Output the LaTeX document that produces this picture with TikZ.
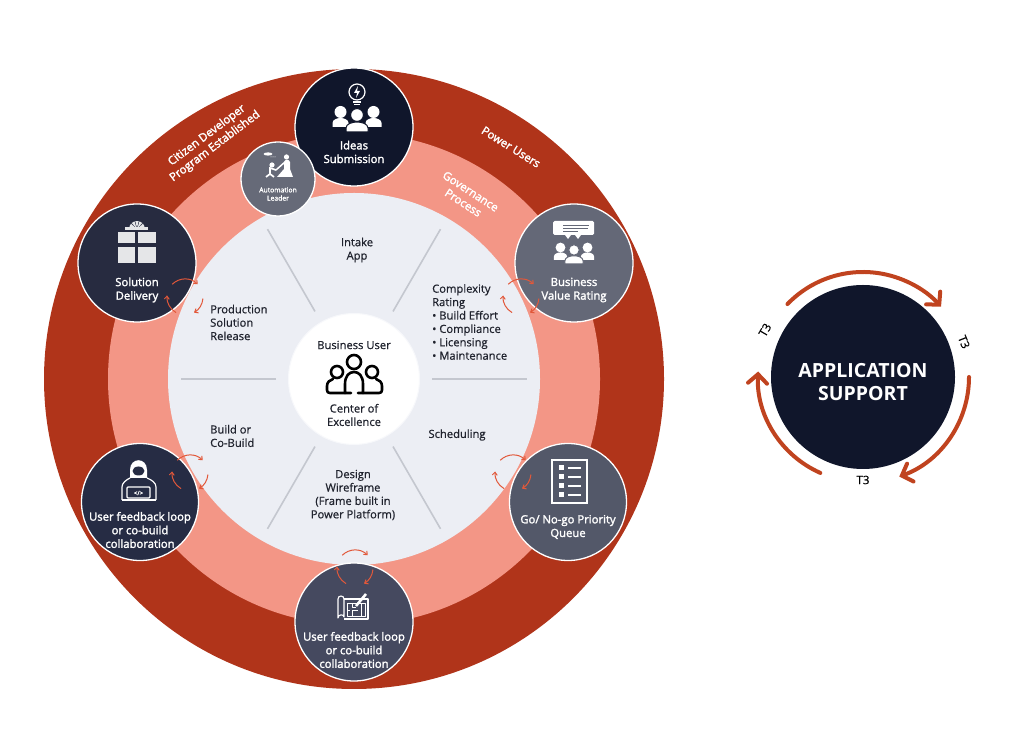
\documentclass[tikz,border=0pt]{standalone}
\usepackage{fontspec}
\setmainfont{Open Sans}
\newfontfamily\hubfont[FakeBold=2]{Open Sans}
\newfontfamily\midfont[FakeBold=0.7]{Open Sans}
\usetikzlibrary{arrows.meta}
\definecolor{ringred}{HTML}{B0341A}
\definecolor{ringpink}{HTML}{F39686}
\definecolor{ringpale}{HTML}{ECEEF4}
\definecolor{hubnavy}{HTML}{10162B}
\definecolor{hubgrey}{HTML}{666A78}
\definecolor{hubdusk}{HTML}{272B40}
\definecolor{hubslate}{HTML}{646877}
\definecolor{hubink}{HTML}{262C44}
\definecolor{hubsteel}{HTML}{535869}
\definecolor{hubstorm}{HTML}{45495F}
\definecolor{loopred}{HTML}{E2583A}
\definecolor{tieredred}{HTML}{C0431F}
\definecolor{spokegrey}{HTML}{C4C7CF}
\definecolor{texink}{HTML}{20232E}
\tikzset{
  hub/.style={circle,draw=white,line width=1.3pt,inner sep=0pt,minimum size=#1},
  hubtext/.style={text=white,align=center,font=\fontsize{11.3}{13.6}\hubfont},
  midtext/.style={text=texink,align=center,font=\fontsize{11.2}{13.4}\midfont},
  sidetext/.style={midtext,align=left,anchor=west,inner sep=0pt},
  ringtext/.style={text=white,align=center,font=\fontsize{11.4}{13.6}\hubfont},
  tiertext/.style={text=black,font=\fontsize{11.5}{13}\midfont},
  looparc/.style={draw=loopred,line width=1pt,-{Straight Barb[length=3pt,width=5pt]}},
  tierarc/.style={draw=tieredred,line width=4pt,line cap=round,-{Straight Barb[length=9pt,width=19pt,line cap=round]}}
}
% three white figures, #4 is the colour behind them
\newcommand{\crowd}[4]{%
\begin{scope}[shift={(#1,#2)},scale=#3]
\foreach \x in {-16.5,16.5}{
\fill[white,shift={(\x,0)}] (0,3) circle [radius=6];
\fill[white,shift={(\x,0)}] (-8,-12) -- (-8,-8) .. controls (-8,-5) and (-4,-3) .. (0,-3) .. controls (4,-3) and (8,-5) .. (8,-8) -- (8,-12) -- cycle;
}
\filldraw[white,draw=#4,line width=1pt] (0,0) circle [radius=6.4];
\filldraw[white,draw=#4,line width=1pt] (-11,-17) -- (-11,-13) .. controls (-11,-9) and (-5,-7) .. (0,-7) .. controls (5,-7) and (11,-9) .. (11,-13) -- (11,-17) -- cycle;
\end{scope}}
\begin{document}
\begin{tikzpicture}[x=1pt,y=1pt]
\useasboundingbox (0,0) rectangle (1016,754);
%rings
\fill[ringred] (354,375) circle [radius=310];
\fill[ringpink] (354,375) circle [radius=246];
\fill[ringpale] (354,375) circle [radius=186];
\node[circle,fill=white,draw=white!60!ringpale,line width=1pt,minimum size=131pt,inner sep=0pt] (core) at (354,375) {};
%spokes
\foreach \a in {60,120,180,240,300,360}
{\draw[spokegrey,line width=1.6pt] ([shift={(\a:78)}]354,375) -- ([shift={(\a:173)}]354,375);}
%hubs
\node[hub=118pt,fill=hubnavy] (ideas) at (354,627) {};
\node[hub=74pt,fill=hubgrey] (leader) at (278,575) {};
\node[hub=118pt,fill=hubdusk] (delivery) at (137,491) {};
\node[hub=118pt,fill=hubslate] (value) at (574,491) {};
\node[hub=117pt,fill=hubink] (feedback) at (140,252) {};
\node[hub=117pt,fill=hubsteel] (queue) at (568,252) {};
\node[hub=118pt,fill=hubstorm] (wireframe) at (354,132) {};
%hub labels
\node[hubtext] at (354,602) {Ideas\\Submission};
\node[hubtext,font=\fontsize{6.8}{8.2}\hubfont] at (278,560) {Automation\\Leader};
\node[hubtext] at (137,464) {Solution\\Delivery};
\node[hubtext] at (574,464) {Business\\Value Rating};
\node[hubtext] at (140,224) {User feedback loop\\or co-build\\collaboration};
\node[hubtext] at (568,227) {Go/ No-go Priority\\Queue};
\node[hubtext] at (354,104) {User feedback loop\\or co-build\\collaboration};
%ring labels
\node[ringtext,rotate=37] at (211,613) {Citizen Developer\\Program Established};
\node[ringtext,rotate=-32] at (511,607) {Power Users};
\node[ringtext,rotate=-33] at (467,557) {Governance\\Process};
%inner labels
\node[midtext] at (357,504) {Intake\\App};
\node[sidetext] at (210,431.5) {Production\\Solution\\Release};
\node[sidetext] at (432,432) {Complexity\\Rating\\\textbullet\ Build Effort\\\textbullet\ Compliance\\\textbullet\ Licensing\\\textbullet\ Maintenance};
\node[sidetext] at (210,318) {Build or\\Co-Build};
\node[midtext] at (457,319) {Scheduling};
\node[midtext] at (353,259) {Design\\Wireframe\\(Frame built in\\Power Platform)};
\node[midtext] at (354,409) {Business User};
\node[midtext] at (354,339) {Center of\\Excellence};
%loop arrows
\foreach \x/\y in {185/457,521/457,190/281,513/281,355/186}
{
\draw[looparc] ([shift={(135:18)}]\x,\y) arc (135:45:18);
\draw[looparc] ([shift={(-5:18)}]\x,\y) arc (-5:-60:18);
\draw[looparc] ([shift={(240:18)}]\x,\y) arc (240:175:18);
}
%center icon
\begin{scope}[draw=black,line width=2.6pt,line cap=round,line join=round]
\draw (354,392) circle [radius=7];
\draw (337,382) circle [radius=6];
\draw (372,382) circle [radius=6];
\draw (351,361) -- (345,361) -- (345,370) .. controls (345,378) and (349,382) .. (354,382) .. controls (359,382) and (363,378) .. (363,370) -- (363,361) -- (358,361);
\draw (345,361) -- (330,361) .. controls (328,361) and (327,362) .. (327,364) -- (327,368) .. controls (327,372) and (330,374) .. (333,375);
\draw (363,361) -- (379,361) .. controls (381,361) and (382,362) .. (382,364) -- (382,368) .. controls (382,372) and (379,374) .. (376,375);
\end{scope}
%ideas icon
\crowd{357}{639}{1}{hubnavy}
\draw[white,line width=1.2pt] (357,662) circle [radius=8];
\fill[white] (358,668) -- (354,661) -- (357,661) -- (356,656) -- (360,663) -- (357,663) -- cycle;
\fill[white] (353,651) rectangle (361,653);
\fill[white] (354,648.5) rectangle (360,650);
%leader icon
\fill[white] (277,577) -- (284,585) -- (284,592) .. controls (285,595) and (289,595) .. (290,592) -- (290,585) -- (293,577) -- cycle;
\draw[white,line width=1.5pt] (285,592) -- (276,584);
\fill[white] (286.5,597) circle [radius=2.6];
\fill[white] (272,589) circle [radius=2.6];
\draw[white,line width=1.7pt] (276,584) -- (270,586) -- (270,580) -- (266,577) (270,580) -- (274,577);
\fill[white] (268,600) ellipse [x radius=4.5,y radius=1.6];
\fill[white] (271,597) circle [radius=.5] (273,597) circle [radius=.5] (275,597) circle [radius=.5];
%delivery icon
\begin{scope}[fill=white!88!hubdusk]
\fill (118,511) rectangle (135,522);
\fill (138,511) rectangle (156,522);
\fill (118,491) rectangle (135,507);
\fill (138,491) rectangle (156,507);
\fill (125,524) rectangle (148,527);
\foreach \a in {30,60,90,120,150}
{\fill ([shift={(\a:1)}]137,525) -- ([shift={(\a+12:8)}]137,525) -- ([shift={(\a-12:8)}]137,525) -- cycle;}
\end{scope}
%value icon
\fill[white,rounded corners=1.5pt] (553,519) rectangle (594,533);
\fill[white] (565,519) -- (568,515) -- (571,519) -- (575,519) -- (578,515) -- (581,519) -- cycle;
\draw[hubslate,line width=.7pt] (563,529) -- (589,529) (563,526) -- (588,526) (563,523) -- (578,523);
\crowd{574}{504}{.82}{hubslate}
%feedback icon
\fill[white] (130,276) -- (130,284) .. controls (130,297) and (147,297) .. (147,284) -- (147,276) -- cycle;
\fill[hubink] (138.5,283) ellipse [x radius=6,y radius=4.5];
\draw[white,line width=1.2pt,line join=round] (122,254) -- (122,267) .. controls (122,271) and (126,274) .. (130,276) (156,254) -- (156,267) .. controls (156,271) and (152,274) .. (147,276);
\draw[white,line width=1.2pt,rounded corners=1pt] (127,256) rectangle (150,267);
\fill[white] (122,253) rectangle (156,255);
\node[text=white,font=\fontsize{6}{6}\hubfont,inner sep=0pt] (codetag) at (138.5,261) {</>};
%queue icon
\draw[white,line width=2.4pt] (552,251) rectangle (587,294);
\foreach \y in {259,268,277,286}
{\fill[white] (559,\y-2.5) rectangle (564,\y+2.5);
\fill[white] (568,\y-1) rectangle (581,\y+1);}
%wireframe icon
\begin{scope}[white,line width=1.1pt,line join=round]
\draw (344,135) -- (368,135) -- (368,155) -- (344,155);
\draw (344,137) .. controls (344,140) and (338,140) .. (338,136) -- (338,155) .. controls (338,159) and (344,159) .. (344,155) -- cycle;
\draw[line width=.9pt] (347,138) rectangle (365,151) (352,138) -- (352,144) -- (358,144) (347,144) -- (350,144) (361,138) -- (361,151) (352,151) -- (352,147) -- (356,147);
\draw[line width=2.6pt] (356,148) -- (366,160);
\end{scope}
%application support
\node[circle,fill=hubnavy,minimum size=184pt,inner sep=0pt] (support) at (863,377) {};
\node[text=white,align=center,font=\fontsize{19.5}{23}\selectfont\bfseries] (supportlabel) at (863,372) {APPLICATION\\SUPPORT};
\draw[tierarc] ([shift={(136:105)}]support.center) arc (136:42:105);
\draw[tierarc] ([shift={(0:106)}]support.center) arc (0:-70:106);
\draw[tierarc] ([shift={(246:105)}]support.center) arc (246:177:105);
\node[tiertext,rotate=60] at (765,424) {T3};
\node[tiertext,rotate=-68] at (964,412) {T3};
\node[tiertext] at (863,274) {T3};
\end{tikzpicture}
\end{document}
